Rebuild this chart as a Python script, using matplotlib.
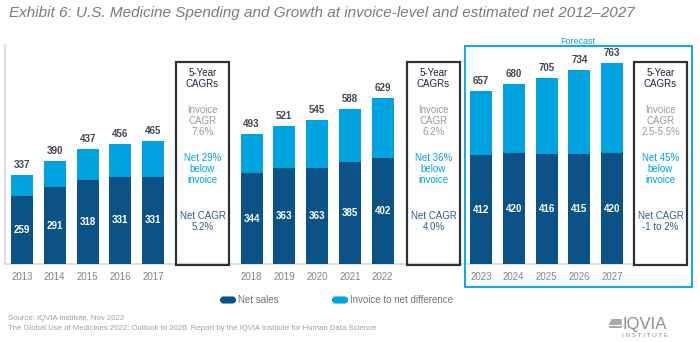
import matplotlib
matplotlib.use("Agg")
import matplotlib.pyplot as plt
from matplotlib.patches import Rectangle, FancyBboxPatch

plt.rcParams['font.family'] = ['Liberation Sans', 'DejaVu Sans']

# ---- data ----
years = [2013, 2014, 2015, 2016, 2017,
         2018, 2019, 2020, 2021, 2022,
         2023, 2024, 2025, 2026, 2027]
net_sales = [259, 291, 318, 331, 331,
             344, 363, 363, 385, 402,
             412, 420, 416, 415, 420]
invoice_total = [337, 390, 437, 456, 465,
                 493, 521, 545, 588, 629,
                 657, 680, 705, 734, 763]
group_sizes = [5, 5, 5]
box_texts = [
    (["5-Year", "CAGRs"], ["Invoice", "CAGR", "7.6%"], ["Net 29%", "below", "invoice"], ["Net CAGR", "5.2%"]),
    (["5-Year", "CAGRs"], ["Invoice", "CAGR", "6.2%"], ["Net 36%", "below", "invoice"], ["Net CAGR", "4.0%"]),
    (["5-Year", "CAGRs"], ["Invoice", "CAGR", "2.5-5.5%"], ["Net 45%", "below", "invoice"], ["Net CAGR", "-1 to 2%"]),
]
legend_labels = ["Net sales", "Invoice to net difference"]
title = "Exhibit 6: U.S. Medicine Spending and Growth at invoice-level and estimated net 2012\u20132027"
source_lines = ["Source: IQVIA Institute, Nov 2022",
                "The Global Use of Medicines 2022: Outlook to 2026. Report by the IQVIA Institute for Human Data Science"]

diff = [t - n for t, n in zip(invoice_total, net_sales)]

# ---- style ----
DARK = "#0B5387"
LIGHT = "#00A3E0"
W, H = 700, 342
BASE_Y = 264          # baseline pixel row (from top)
PX_PER_UNIT = 0.264

fig = plt.figure(figsize=(7, 3.42), dpi=100)
fig.patch.set_facecolor("white")

# layout overlay (pixel coordinates)
lay = fig.add_axes([0, 0, 1, 1])
lay.set_xlim(0, W)
lay.set_ylim(H, 0)
lay.axis("off")

# bar axes (value units)
ax = fig.add_axes([0, (H - BASE_Y) / H, 1, BASE_Y / H])
ax.set_xlim(0, W)
ax.set_ylim(0, BASE_Y / PX_PER_UNIT)
ax.axis("off")
ax.patch.set_alpha(0)

group_starts = [22, 251.5, 481]
spacing = 32.8
bar_w = 22
xs = []
for g, n in enumerate(group_sizes):
    xs += [group_starts[g] + spacing * i for i in range(n)]

ax.bar(xs, net_sales, width=bar_w, color=DARK, zorder=3)
ax.bar(xs, diff, bottom=net_sales, width=bar_w, color=LIGHT, zorder=3)

for x, n, t in zip(xs, net_sales, invoice_total):
    ax.text(x, n / 2, str(n), ha="center", va="center", color="white",
            fontsize=7, fontweight="bold", zorder=4)
    ax.text(x, t + 10 / PX_PER_UNIT, str(t), ha="center", va="center",
            color="#3E4650", fontsize=7, fontweight="bold", zorder=4)

# axis lines
lay.plot([5, 5], [45, BASE_Y], color="#D5D8DC", lw=1.2, zorder=1)
lay.plot([5, 634], [BASE_Y, BASE_Y], color="#D5D8DC", lw=1.2, zorder=1)

# year labels
for x, y in zip(xs, years):
    lay.text(x, 277, str(y), ha="center", va="center", color="#7F868C", fontsize=7)

# CAGR boxes
box_lefts = [176, 407, 634]
box_w = 53
for bl, (hdr, inv, below, netc) in zip(box_lefts, box_texts):
    lay.add_patch(Rectangle((bl, 62), box_w, 203, fill=False, edgecolor="#2D3236",
                            lw=1.6, zorder=5))
    cx = bl + box_w / 2
    blocks = [(hdr, 73, "#1E2440"), (inv, 110, "#9B9B9B"),
              (below, 158, LIGHT), (netc, 216, "#2D5F8F")]
    for lines, y0, col in blocks:
        for k, s in enumerate(lines):
            lay.text(cx, y0 + 10.8 * k, s, ha="center", va="center",
                     color=col, fontsize=7)

# Forecast box
lay.add_patch(Rectangle((464.5, 45.5), 227, 241.5, fill=False, edgecolor=LIGHT,
                        lw=1.3, zorder=5))
lay.text(578, 41.5, "Forecast", ha="center", va="center", color=LIGHT, fontsize=6.5)

# title
lay.text(9, 13, title, ha="left", va="center", color="#7A7A7A",
         fontsize=11, style="italic")

# legend
for lx, lab, col in [(218, legend_labels[0], DARK), (330, legend_labels[1], LIGHT)]:
    lay.add_patch(FancyBboxPatch((lx + 3, 297.5), 14, 5,
                                 boxstyle="round,pad=0,rounding_size=2.5",
                                 facecolor=col, edgecolor=col, lw=1.5))
    lay.text(lx + 20, 300, lab, ha="left", va="center", color="#6B7580", fontsize=7)

# source
lay.text(8, 318, source_lines[0], ha="left", va="center", color="#A0A0A0", fontsize=5.6)
lay.text(8, 329, source_lines[1], ha="left", va="center", color="#A0A0A0", fontsize=5.6)

# logo
for k in range(4):
    lay.plot([612 - k * 0.8, 621], [320 + k * 2.2, 320 + k * 2.2],
             color="#8A8F94", lw=1.1)
lay.text(622, 324.5, "IQVIA", ha="left", va="center", color="#8A8F94",
         fontsize=12, fontweight="light")
lay.text(645, 335.5, "I N S T I T U T E", ha="center", va="center",
         color="#8A8F94", fontsize=4.6)

fig.savefig("out.png", dpi=100, facecolor="white")
